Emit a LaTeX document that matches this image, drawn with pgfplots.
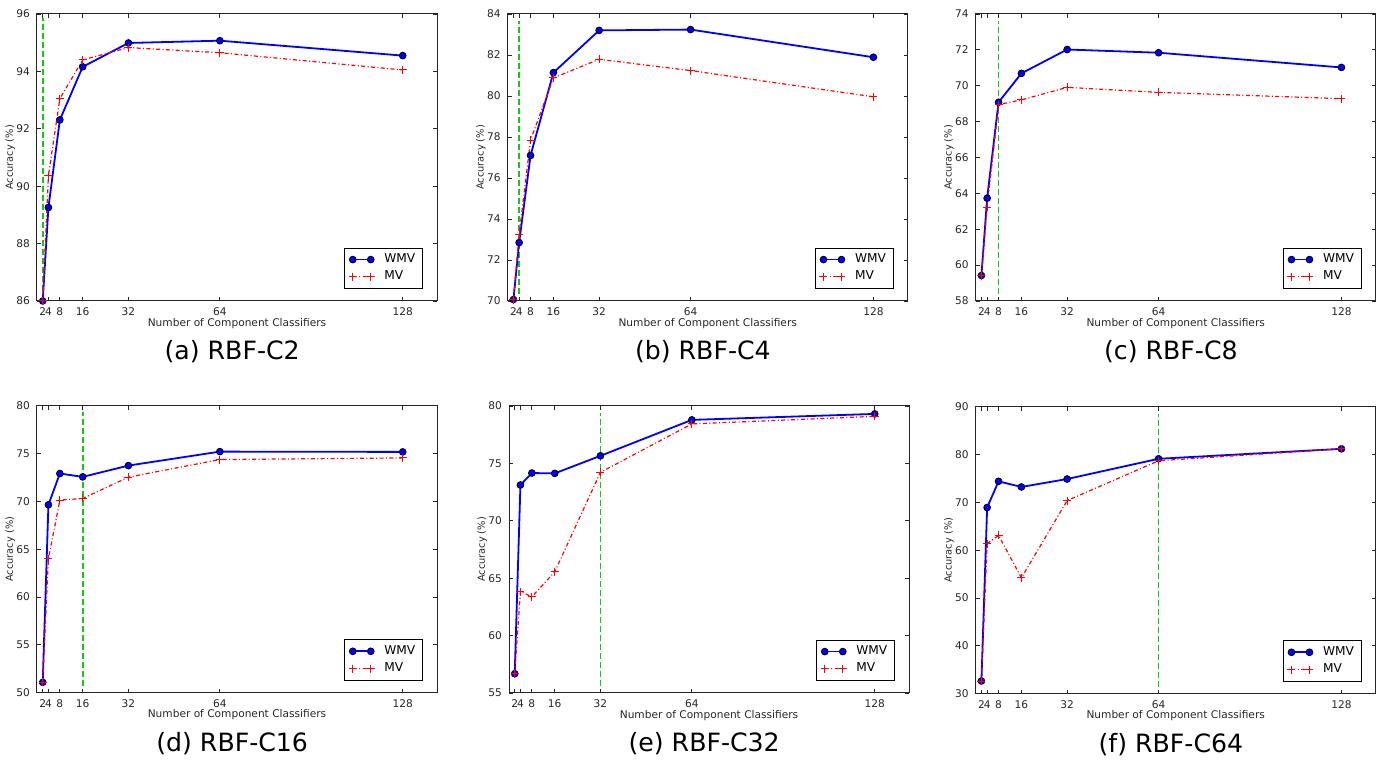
\documentclass[border=0pt]{standalone}
\usepackage{fontspec}
\setmainfont{DejaVu Sans}
\usepackage{pgfplots}
\pgfplotsset{compat=1.18}
\definecolor{wmvblue}{RGB}{0,0,255}
\definecolor{mvred}{RGB}{255,0,0}
\definecolor{vgreen}{RGB}{20,200,20}
\pgfplotsset{
  sub/.style={
    scale only axis, width=200pt, height=143.5pt,
    anchor=north west,
    xmin=0, xmax=140,
    xtick={2,4,8,16,32,64,128},
    xticklabels={2,4,8,16,32,64,128},
    tick align=inside, tick pos=both,
    major tick length=2pt,
    axis line style={line width=0.5pt, black!85},
    every tick/.style={black!85, line width=0.4pt},
    tick label style={font=\fontsize{5.3}{6}\selectfont, text=black!85},
    /pgf/number format/assume math mode=true,
    xlabel={Number of Component Classifiers},
    ylabel={Accuracy (\%)},
    xlabel style={font=\fontsize{5.3}{6}\selectfont, text=black!85, at={(axis description cs:0.5,-0.077)}, anchor=center},
    ylabel style={font=\fontsize{4.9}{6}\selectfont, text=black!85, at={(axis description cs:-0.067,0.5)}, anchor=center},
    every axis title shift=0pt,
    title style={font=\fontsize{12.6}{14}\selectfont, at={(axis description cs:0.488,-0.178)}, anchor=center},
    legend cell align=left,
    legend style={at={(axis description cs:0.965,0.042)}, anchor=south east,
      font=\fontsize{6.1}{7}\selectfont, draw=black, line width=0.5pt,
      inner xsep=2pt, inner ysep=1.2pt, row sep=-0.5pt, column sep=3.2pt,
      nodes={inner sep=1.6pt}},
    legend image code/.code={\draw plot coordinates {(0pt,0pt) (9pt,0pt)};},
    clip=false,
  },
  wmv/.style={color=wmvblue, line width=0.9pt, mark=*, mark size=1.7pt,
    mark options={fill=wmvblue, draw=black, line width=0.4pt, solid}},
  mv/.style={color=mvred, line width=0.6pt, dash pattern=on 2pt off 1.2pt on 0.5pt off 1.2pt,
    mark=+, mark size=2pt, mark options={solid, line width=0.5pt}},
  vline/.style={color=vgreen, line width=0.8pt, dash pattern=on 3pt off 1.5pt, forget plot},
}
\begin{document}
\begin{tikzpicture}
\useasboundingbox (0,0) rectangle (690pt,380pt);

% (a)
\begin{axis}[sub, at={(18.5pt,373pt)}, ymin=86, ymax=96, ytick={86,88,...,96}, title={(a) RBF-C2}]
\addplot[vline] coordinates {(2,86.05) (2,95.85)};
\addplot[wmv] coordinates {(2,86.0) (4,89.26) (8,92.31) (16,94.16) (32,94.99) (64,95.07) (128,94.55)};
\addplot[mv] coordinates {(2,86.0) (4,90.37) (8,93.05) (16,94.40) (32,94.83) (64,94.65) (128,94.05)};
\legend{WMV, MV}
\end{axis}

% (b)
\begin{axis}[sub, at={(253.85pt,373pt)}, ymin=70, ymax=84, ytick={70,72,...,84}, title={(b) RBF-C4}]
\addplot[vline] coordinates {(4,70.35) (4,83.65)};
\addplot[wmv] coordinates {(2,70.07) (4,72.85) (8,77.10) (16,81.14) (32,83.20) (64,83.24) (128,81.89)};
\addplot[mv] coordinates {(2,70.07) (4,73.24) (8,77.85) (16,80.88) (32,81.79) (64,81.24) (128,79.96)};
\legend{WMV, MV}
\end{axis}

% (c)
\begin{axis}[sub, at={(487.85pt,373pt)}, ymin=58, ymax=74, ytick={58,60,...,74}, title={(c) RBF-C8}]
\addplot[vline] coordinates {(8,58.4) (8,73.6)};
\addplot[wmv] coordinates {(2,59.42) (4,63.73) (8,69.08) (16,70.69) (32,72.02) (64,71.84) (128,71.02)};
\addplot[mv] coordinates {(2,59.42) (4,63.23) (8,68.95) (16,69.21) (32,69.91) (64,69.63) (128,69.28)};
\legend{WMV, MV}
\end{axis}

% (d)
\begin{axis}[sub, at={(18.5pt,177.15pt)}, ymin=50, ymax=80, ytick={50,55,...,80}, title={(d) RBF-C16}]
\addplot[vline] coordinates {(16,50.7) (16,79.3)};
\addplot[wmv] coordinates {(2,51.08) (4,69.64) (8,72.91) (16,72.56) (32,73.74) (64,75.20) (128,75.17)};
\addplot[mv] coordinates {(2,51.08) (4,64.01) (8,70.13) (16,70.30) (32,72.53) (64,74.37) (128,74.54)};
\legend{WMV, MV}
\end{axis}

% (e)
\begin{axis}[sub, at={(254.5pt,177pt)}, ymin=55, ymax=80, ytick={55,60,...,80}, title={(e) RBF-C32}]
\addplot[vline] coordinates {(32,55.6) (32,79.4)};
\addplot[wmv] coordinates {(2,56.68) (4,73.12) (8,74.16) (16,74.13) (32,75.66) (64,78.79) (128,79.31)};
\addplot[mv] coordinates {(2,56.68) (4,63.84) (8,63.38) (16,65.55) (32,74.22) (64,78.44) (128,79.10)};
\legend{WMV, MV}
\end{axis}

% (f)
\begin{axis}[sub, at={(487.85pt,176.65pt)}, ymin=30, ymax=90, ytick={30,40,...,90}, title={(f) RBF-C64}]
\addplot[vline] coordinates {(64,31.5) (64,88.5)};
\addplot[wmv] coordinates {(2,32.65) (4,68.92) (8,74.40) (16,73.22) (32,74.88) (64,79.11) (128,81.19)};
\addplot[mv] coordinates {(2,32.65) (4,61.36) (8,63.10) (16,54.22) (32,70.37) (64,78.70) (128,81.19)};
\legend{WMV, MV}
\end{axis}
\end{tikzpicture}
\end{document}
